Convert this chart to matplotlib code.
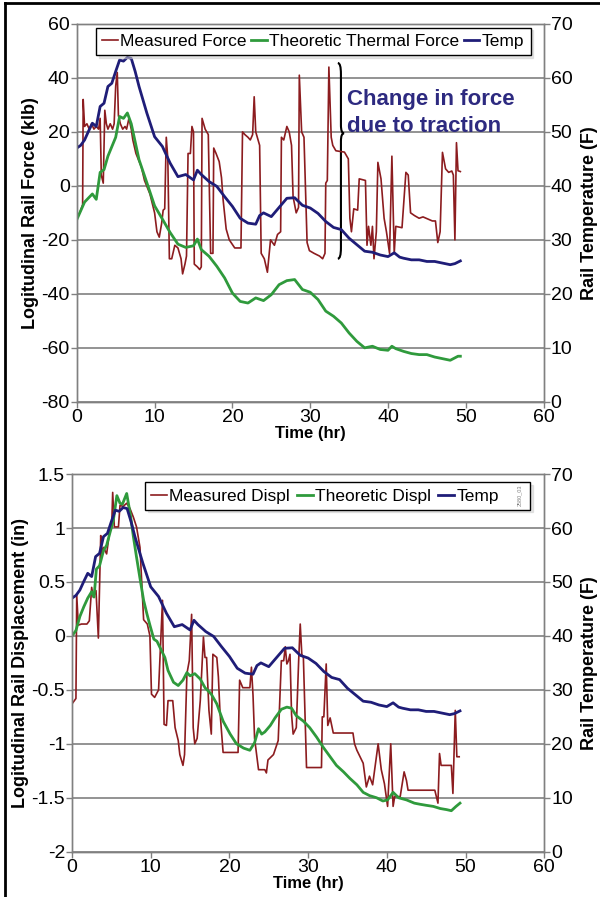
import numpy as np
import matplotlib.pyplot as plt
from matplotlib.path import Path
from matplotlib.patches import PathPatch
from matplotlib.lines import Line2D

plt.rcParams['font.family'] = ['Liberation Sans', 'DejaVu Sans']

# ---- data ----
# rail temperature (F), same record for both panels
temp_t = [0, 0.5, 1, 1.5, 2, 2.5, 3, 3.5, 4, 4.5, 5, 5.5, 6, 6.5, 7, 7.5, 8, 9, 10, 11,
          12, 13, 14, 15, 15.5, 16, 17, 18, 19, 20, 21, 22, 23, 23.5, 24, 25, 26, 27, 28,
          29, 30, 31, 32, 33, 34, 35, 36, 37, 38, 39, 40, 40.8, 41.5, 42, 43, 44, 45, 46,
          47, 48, 48.6, 49.3]
temp = [47.0, 47.5, 48.5, 50.1, 51.6, 51.0, 54.7, 55.3, 58.4, 59.0, 61.2, 63.3, 63.1, 63.8,
        63.6, 61.2, 58.4, 53.5, 49.1, 47.3, 44.2, 41.7, 42.1, 41.1, 42.9, 42.1, 40.8, 39.9,
        38.0, 36.2, 34.0, 33.1, 32.9, 34.5, 35.0, 34.3, 36.0, 37.7, 37.8, 36.4, 35.9, 34.9,
        33.4, 32.3, 31.9, 30.3, 29.1, 27.9, 27.7, 27.2, 26.9, 27.6, 26.8, 26.6, 26.3, 26.3,
        26.0, 26.0, 25.7, 25.4, 25.6, 26.1]

# theoretic thermal force (klb)
thf_t = [0, 1, 2, 2.5, 3, 3.5, 4, 5, 5.5, 6, 6.5, 7, 8, 9, 10, 11, 12, 13, 14, 15, 15.5,
         16, 17, 18, 19, 20, 21, 22, 23, 24, 25, 26, 27, 28, 29, 30, 31, 32, 33, 34, 35,
         36, 37, 38, 39, 40, 40.5, 41, 42, 43, 44, 45, 46, 47, 48, 49, 49.3]
thf = [-12.5, -6, -3, -5, 5, 6, 11, 18, 25.7, 25, 27, 23, 9.7, 1.2, -7.4, -12.3, -17.3, -21.6,
       -22.8, -22.2, -19.7, -23.6, -26.1, -29.8, -34.1, -39.7, -42.8, -43.4, -41.5, -42.5,
       -40.3, -36.6, -35.1, -34.7, -38.4, -39.4, -42.1, -46.4, -48.3, -50.8, -54.5, -57.6,
       -60.0, -59.4, -60.6, -60.9, -59.4, -60.3, -61.3, -62.1, -62.5, -62.5, -63.4, -64.0,
       -64.6, -63.1, -63.1]

# measured force (klb)
mf_t = [0, 0.4, 0.75, 0.82, 1.0, 1.3, 1.6, 1.9, 2.2, 2.5, 2.8, 3.0, 3.15, 3.4, 3.6, 3.8,
        4.0, 4.3, 4.6, 4.8, 5.0, 5.2, 5.35, 5.6, 5.9, 6.2, 6.4, 6.7, 7.0, 7.2, 7.6, 8.3,
        8.7, 9.4, 10.0, 10.3, 10.6, 10.9, 11.1, 11.3, 11.5, 11.7, 11.9, 12.2, 12.6, 13.0,
        13.4, 13.6, 13.9, 14.1, 14.3, 14.6, 14.8, 15.0, 15.1, 15.5, 15.8, 16.0, 16.1,
        16.5, 16.9, 17.2, 17.5, 17.6, 17.9, 18.3, 18.6, 18.8, 19.2, 19.6, 20.3, 21.1,
        21.3, 21.6, 22.0, 22.3, 22.6, 22.8, 23.0, 23.5, 23.7, 24.1, 24.5, 24.9, 25.4,
        25.8, 26.2, 26.3, 26.6, 27.0, 27.3, 27.6, 27.8, 28.2, 28.5, 28.6, 28.9, 29.2,
        29.6, 29.9, 30.5, 31.2, 31.6, 31.9, 32.0, 32.2, 32.4, 32.7, 32.9, 33.3, 34.4,
        34.9, 35.1, 35.3, 35.6, 36.1, 36.3, 37.1, 37.3, 37.5, 37.8, 38.0, 38.2, 38.5,
        38.7, 39.1, 39.5, 39.8, 40.2, 40.5, 40.8, 41.0, 41.8, 42.3, 42.6, 42.9, 43.4,
        44.0, 44.5, 45.7, 46.1, 46.4, 46.7, 47.0, 47.4, 47.8, 48.2, 48.4, 48.6, 48.8,
        49.0, 49.3]
mf = [-12, -9.8, -7, 32, 22, 23, 21, 23, 21, 22, 21, 25, 4, 1, 28, 23,
      21, 23, 21, 23, 37, 42, 26, 23, 21, 22, 21, 25, 21, 17, 12, 7,
      2, -3, -10, -17, -19, -14, -9, -8.5, 18, 10, -27, -27, -22, -23,
      -27, -32.6, -29, -26, 12, 12, 22, 20, -29, -30, -31, -30, 25,
      21, 19, -25, -25, 14, 12, 9, 3, -5, -16, -20, -23, -23,
      20, 19, 18, 17, 19, 33, 20, 15, -25, -27, -32, -20, -22,
      -18, -17, 18, 17, 22, 20, 15, -4, -10, -8, 41, 20, 18,
      -21, -24, -25, -26, -27, -25, 1, 2, 44, 18, 15, 13, 12.5,
      10, -12, -17, -8.5, -9, 2.6, 2, -22, -15, -22, -15, -27, -17,
      8.7, 2.6, -12, -17, -25, 11, -25, -15, -15.5, 5, 4, -10, -11,
      -12, -11.5, -13, -13, -21, -17, 12.4, 6.3, 5, 5.5, 4, -20, 16,
      5.6, 5.3]

# theoretic displacement (in)
thd_t = [0, 0.5, 1, 1.5, 2, 2.5, 2.8, 3.1, 3.5, 4, 4.4, 4.8, 5.25, 5.7, 6.1, 6.4, 6.95,
         7.4, 7.8, 8.2, 8.6, 9.1, 9.5, 9.9, 10.4, 10.8, 11.4, 11.8, 12.2, 12.9, 13.5,
         14.1, 14.6, 15.0, 15.6, 16.3, 16.9, 17.7, 18.4, 19.2, 20.1, 20.9, 21.8, 22.6,
         23.2, 23.7, 24.1, 24.5, 25.2, 25.8, 26.6, 27.3, 27.9, 28.5, 29.4, 30.2, 31.1,
         31.9, 32.8, 33.6, 34.5, 35.3, 36.2, 37.0, 37.8, 38.7, 39.5, 40.1, 40.8, 41.5,
         42.5, 43.5, 44.2, 45.0, 45.9, 46.8, 47.6, 48.2, 48.8, 49.3]
thd = [0.0, 0.05, 0.18, 0.27, 0.35, 0.41, 0.36, 0.62, 0.65, 0.79, 0.84, 0.95, 1.07, 1.30,
       1.23, 1.22, 1.32, 1.13, 0.92, 0.73, 0.55, 0.33, 0.21, 0.1, -0.03, -0.05, -0.14,
       -0.2, -0.32, -0.43, -0.46, -0.41, -0.34, -0.37, -0.35, -0.4, -0.48, -0.54, -0.63,
       -0.79, -0.91, -1.0, -1.04, -1.06, -0.99, -0.86, -0.91, -0.89, -0.83, -0.76, -0.68,
       -0.66, -0.67, -0.74, -0.79, -0.85, -0.94, -1.03, -1.12, -1.2, -1.26, -1.32, -1.38,
       -1.45, -1.48, -1.50, -1.53, -1.52, -1.45, -1.5, -1.52, -1.55, -1.56, -1.57, -1.58,
       -1.6, -1.61, -1.62, -1.58, -1.55]

# measured displacement (in)
md_t = [0, 0.3, 0.5, 0.6, 0.8, 1.2, 1.9, 2.2, 2.5, 2.7, 3.05, 3.35, 3.65, 3.8, 4.0, 4.4,
        4.75, 5.04, 5.17, 5.38, 5.9, 6.1, 6.5, 6.95, 7.37, 7.8, 8.2, 8.64, 9.1, 9.57,
        9.9, 10.1, 10.5, 11.0, 11.5, 11.7, 12.0, 12.2, 12.8, 13.1, 13.5, 13.7, 14.1,
        14.3, 14.6, 14.9, 15.2, 15.4, 15.6, 15.9, 16.3, 16.7, 16.9, 17.1, 17.4, 17.7,
        17.9, 18.4, 18.6, 18.8, 19.2, 21.1, 21.3, 21.7, 22.6, 22.8, 23.0, 23.2, 23.7,
        24.5, 24.7, 24.9, 25.6, 26.2, 26.6, 26.9, 27.1, 27.3, 27.5, 27.7, 27.9, 28.1,
        28.5, 28.8, 29.0, 29.2, 29.4, 29.8, 31.7, 31.8, 32.0, 32.3, 32.5, 32.8, 33.2,
        35.7, 35.9, 36.2, 37.0, 37.4, 37.8, 38.2, 38.9, 39.3, 39.7, 40.1, 40.5, 40.8,
        41.0, 41.7, 42.2, 42.5, 42.7, 46.1, 46.5, 46.7, 46.9, 48.2, 48.4, 48.7, 48.9,
        49.2]
md = [-0.63, -0.6, -0.58, 0.38, 0.1, 0.11, 0.11, 0.14, 0.45, 0.36, 0.42, -0.02, 0.93, 0.76,
      0.82, 0.76, 0.95, 1.01, 1.33, 1.01, 1.01, 1.21, 1.2, 1.23, 1.18, 1.1, 1.01, 0.82,
      0.15, 0.11, 0.0, -0.54, -0.57, -0.5, 0.33, -0.82, -0.83, -0.6, -0.6, -0.85, -0.97,
      -1.1, -1.2, -1.1, -0.35, -0.23, 0.2, -0.85, -1.0, -0.95, -0.6, -0.01, -0.2, -0.2,
      -0.69, -0.91, -0.17, -0.2, -0.38, -0.7, -1.08, -1.08, -0.41, -0.48, -0.48, -0.29,
      -0.55, -0.95, -1.24, -1.24, -1.27, -1.15, -1.1, -0.97, -0.23, -0.23, -0.1, -0.26,
      -0.23, -0.17, -0.73, -0.91, -0.85, -0.23, 0.11, -0.17, -0.2, -1.22, -1.22, -0.75,
      -0.75, -0.26, -0.83, -0.76, -0.9, -0.9, -1.0, -1.06, -1.18, -1.4, -1.3, -1.38,
      -1.0, -1.24, -1.37, -1.58, -1.0, -1.58, -1.49, -1.49, -1.26, -1.34, -1.43, -1.43,
      -1.55, -1.09, -1.2, -1.2, -1.46, -0.69, -1.12, -1.12]

red = '#8c1c1f'
green = '#2f9a3c'
navy = '#1f1d78'
grey = '#808080'


def style_axes(ax, axr, ylim, yticks, ylabel):
    ax.set_xlim(0, 60)
    ax.set_ylim(*ylim)
    ax.set_yticks(yticks)
    ax.set_xticks(range(0, 61, 10))
    ax.set_yticklabels(['%g' % v for v in yticks])
    axr.set_ylim(0, 70)
    axr.set_yticks(range(0, 71, 10))
    ax.grid(axis='y', color=grey, lw=1.2)
    ax.set_axisbelow(True)
    for a in (ax, axr):
        for s in a.spines.values():
            s.set_color(grey)
            s.set_linewidth(1.0)
        a.tick_params(labelsize=14, color=grey, length=4, width=1, pad=1)
    ax.set_xlabel('Time (hr)', fontsize=12, fontweight='bold', labelpad=0)
    ax.set_ylabel(ylabel, fontsize=13, fontweight='bold', labelpad=2)
    axr.set_ylabel('Rail Temperature (F)', fontsize=13, fontweight='bold', labelpad=6)


def add_legend(axr, handles, anchor, colsp, ncol=3):
    axr.legend(handles=handles, loc='upper left', bbox_to_anchor=anchor,
               ncol=ncol, fontsize=12.5, handlelength=0.9, handletextpad=0.15,
               columnspacing=colsp, borderaxespad=0, borderpad=0.35, fancybox=False,
               edgecolor='black', framealpha=1, shadow={'color': '0.8'})


fig = plt.figure(figsize=(6, 8.97), dpi=100)

# ---- top: force ----
ax1 = fig.add_axes([0.128, 0.552, 0.778, 0.4214])
ax1r = ax1.twinx()
l1, = ax1.plot(mf_t, mf, color=red, lw=1.2, label='Measured Force')
l2, = ax1.plot(thf_t, thf, color=green, lw=2.0, label='Theoretic Thermal Force')
l3, = ax1r.plot(temp_t, temp, color=navy, lw=2.0, label='Temp')
style_axes(ax1, ax1r, (-80, 60), list(range(-80, 61, 20)), 'Logitudinal Rail Force (klb)')
add_legend(ax1r, [l1, l2, l3], (0.041, 0.99), 0.25)

# brace + note
bx0, bxs, bxn = 33.55, 33.95, 34.35
top, mid, bot = 45.5, 19.5, -27
verts = [(bx0, top), (bxs, top), (bxs, top - 4), (bxs, mid + 3), (bxs, mid), (bxn, mid),
         (bxs, mid), (bxs, mid - 3), (bxs, bot + 4), (bxs, bot), (bx0, bot)]
codes = [Path.MOVETO, Path.CURVE3, Path.CURVE3, Path.LINETO, Path.CURVE3, Path.CURVE3,
         Path.CURVE3, Path.CURVE3, Path.LINETO, Path.CURVE3, Path.CURVE3]
ax1.add_patch(PathPatch(Path(verts, codes), fill=False, lw=1.5, color='black'))
ax1.text(34.7, 30, 'Change in force', color='#2d2a80', fontsize=16, fontweight='bold')
ax1.text(34.7, 20, 'due to traction', color='#2d2a80', fontsize=16, fontweight='bold')

# ---- bottom: displacement ----
ax2 = fig.add_axes([0.12, 0.0505, 0.787, 0.421])
ax2r = ax2.twinx()
m1, = ax2.plot(md_t, md, color=red, lw=1.2, label='Measured Displ')
m2, = ax2.plot(thd_t, thd, color=green, lw=2.0, label='Theoretic Displ')
m3, = ax2r.plot(temp_t, temp, color=navy, lw=2.0, label='Temp')
style_axes(ax2, ax2r, (-2, 1.5), [-2, -1.5, -1, -0.5, 0, 0.5, 1, 1.5],
           'Logitudinal Rail Displacement (in)')
# empty 4th entry keeps room for the little drawing number inside the box
blank = Line2D([], [], color='none', label='')
add_legend(ax2r, [m1, m2, m3, blank], (0.155, 0.978), 0.4, ncol=4)
fig.text(0.862, 0.437, '2580_03', fontsize=4, color='0.5', rotation=90)

# page frame (left and top edges only)
fig.add_artist(Line2D([0.008, 0.008], [0, 0.997], color='black', lw=2))
fig.add_artist(Line2D([0.008, 1], [0.997, 0.997], color='black', lw=2))

fig.savefig('out.png', dpi=100)
